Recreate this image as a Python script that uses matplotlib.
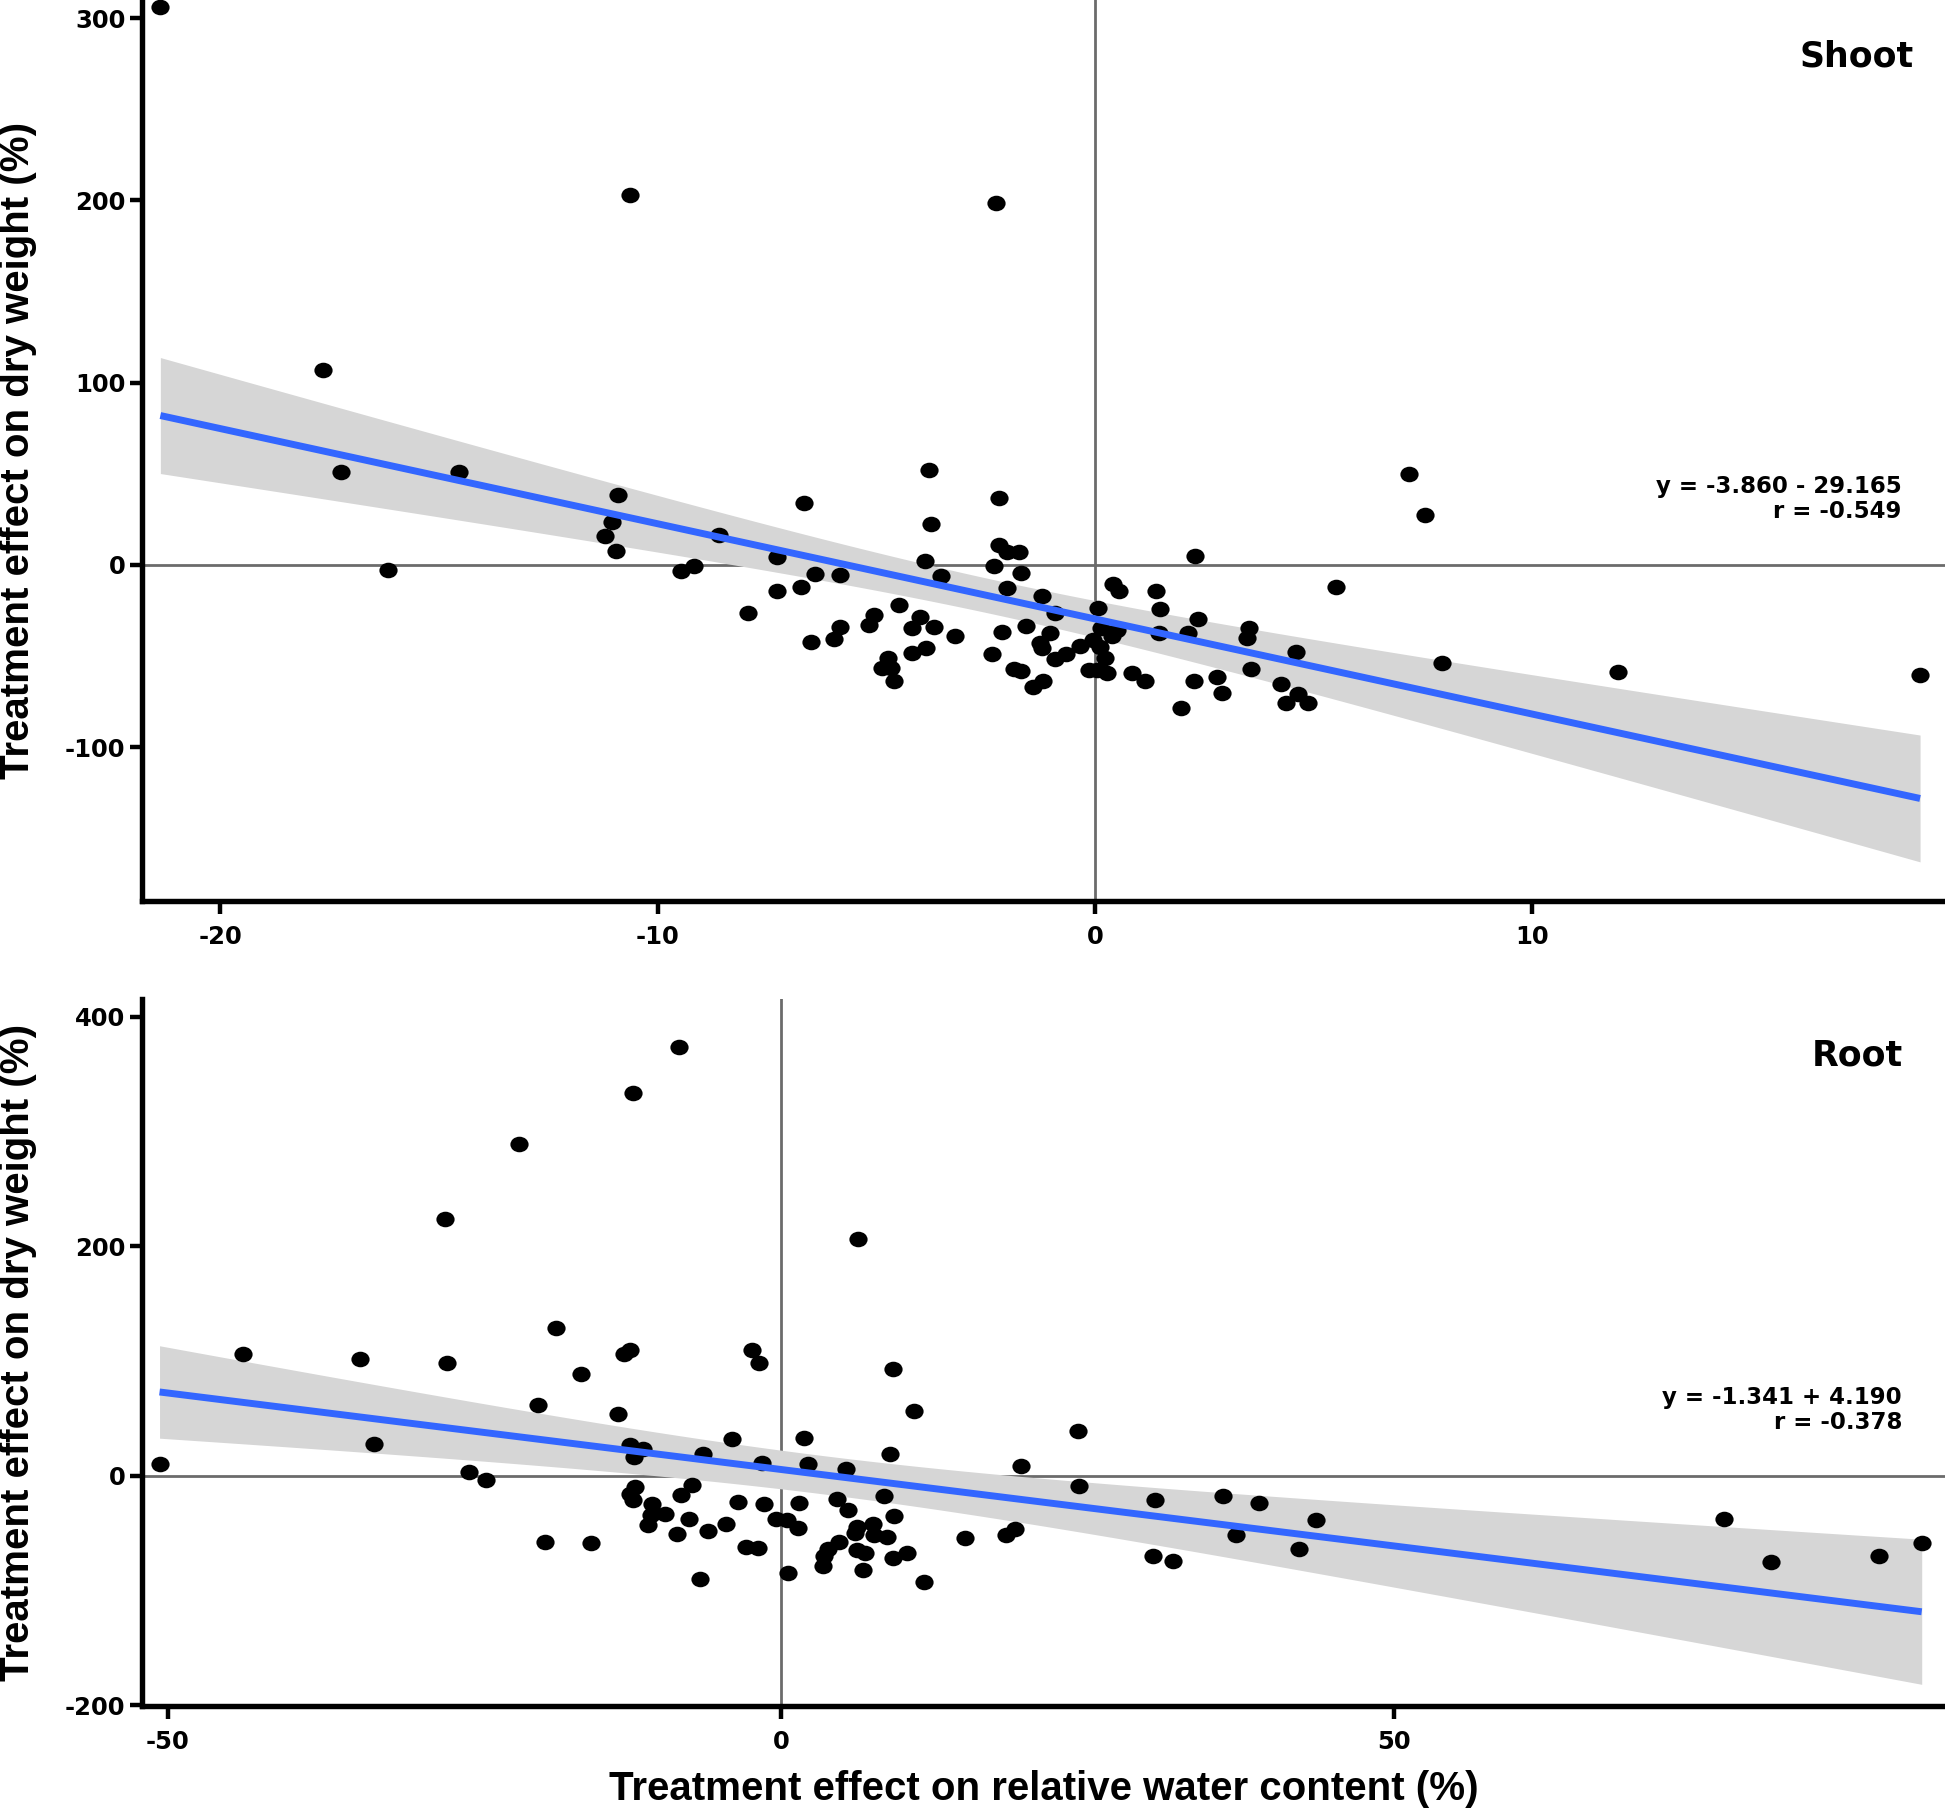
import numpy as np
import matplotlib
matplotlib.use("Agg")
import matplotlib.pyplot as plt
from matplotlib.path import Path

# ---------------- data ----------------
shoot_rwc = [-21.37, -10.62, -17.64, -17.23, -14.55, -16.16, -10.90, -11.05, -11.21, -10.95, -9.47, -9.17,
             -8.59, -7.26, -6.65, -7.94, -7.28, -6.73, -6.40, -5.82, -6.50, -5.96, -5.82, -5.16, -5.05,
             -4.48, -4.73, -4.86, -4.67, -4.60, -4.18, -3.87, -4.19, -3.99, -3.67, -3.20, -3.80, -3.75,
             -3.89, -3.51, -2.26,
             -2.19, -2.19, -2.00, -1.73, -2.30, -1.69, -2.02, -1.20, -0.91, -1.58, -2.13, -1.02, -1.26,
             -1.22, -2.35, -1.85, -1.69, -1.42, -1.18, -0.91, -0.65, -0.34, -0.05, 0.08, 0.15, 0.38, 0.50,
             0.11, 0.23, -0.13, 0.04, 0.27, 0.42, 0.56, 0.84, 1.14, 1.39, 1.49, 1.47, 2.30, 2.35, 2.13,
             2.27, 1.98, 2.79, 2.91, 3.53, 3.48, 3.58, 4.60, 4.25, 4.64, 4.37, 4.88, 5.51,
             7.18, 7.56, 7.93, 11.96, 18.87]
shoot_dw = [306.0, 202.7, 106.8, 50.8, 50.8, -2.6, 38.2, 23.7, 16.0, 7.6, -3.3, -0.7,
            16.5, 4.6, 33.8, -26.5, -14.3, -11.9, -5.1, -5.5, -42.4, -40.4, -33.8, -32.9, -27.4,
            -21.8, -51.2, -56.3, -56.3, -63.5, -48.5, -45.7, -34.7, -28.4, -33.8, -38.8, 52.1, 22.3,
            2.2, -5.8, 198.5,
            36.6, 11.0, 7.0, 7.3, -0.4, -4.6, -12.8, -16.8, -26.1, -33.5, -36.9, -37.5, -43.0,
            -45.7, -49.0, -56.9, -58.1, -66.7, -63.5, -51.7, -49.0, -44.4, -41.1, -23.8, -34.7, -38.8, -35.7,
            -45.2, -51.2, -57.6, -57.6, -59.1, -10.4, -14.1, -59.4, -63.5, -14.3, -24.3, -37.1, 5.1, -29.4, -37.5,
            -63.5, -78.6, -61.6, -70.4, -34.7, -40.2, -57.2, -47.9, -65.4, -70.9, -75.5, -75.5, -11.9,
            50.1, 27.6, -53.8, -58.7, -60.3]

root_rwc = [-50.67, -43.86, -34.32, -33.19, -27.40, -27.22, -25.47, -24.09, -21.39, -19.83, -19.21, -18.37,
            -16.29, -15.53, -13.27, -12.80, -12.28, -12.07, -8.35,
            -2.39, -1.79, -12.32, -11.23, -11.97, -3.97, -6.39, -1.57, -11.91, -12.32, -12.10, -7.23, -8.16,
            -10.55, -9.46, -10.60, -10.87, -7.48, -8.51, -5.98, -4.51, -3.53, -1.39, -0.43, 0.46, -2.88,
            -1.85, -6.61, 0.60,
            9.16, 10.85, 1.88, 8.89, 2.23, 5.28, 24.2, 19.55, 24.28, 1.49, 4.54, 5.49, 8.40, 9.24, 1.41,
            6.17, 7.48, 6.04, 7.61, 8.67, 4.76, 3.81, 3.54, 3.40, 6.17, 6.85, 6.71, 9.16, 10.30, 11.66,
            15.01, 18.35, 19.09, 6.25,
            30.45, 30.29, 31.95, 36.03, 39.01, 37.11, 43.64, 42.25,
            76.9, 80.7, 89.5, 93.0]
root_dw = [10.6, 106.3, 102.1, 27.7, 223.4, 97.8, 3.0, -4.0, 288.7, 61.8, -57.5, 129.1,
           88.4, -58.5, 53.8, 105.9, 109.2, 333.2, 373.4,
           109.4, 97.8, 27.2, 23.7, 16.4, 31.8, 18.7, 11.5, -9.7, -15.5, -21.4, -8.3, -16.4,
           -24.3, -33.0, -34.4, -42.6, -37.3, -50.4, -48.1, -41.7, -22.8, -24.8, -37.3, -38.8, -62.1,
           -62.6, -89.6, -84.7,
           92.8, 56.2, 32.9, 18.5, 9.8, 6.2, 38.8, 8.6, -8.9, -23.7, -20.5, -30.1, -17.6, -35.3, -45.5,
           -44.6, -42.3, -49.5, -51.9, -53.3, -57.7, -63.5, -70.2, -78.6, -64.9, -67.3, -81.7, -71.6, -66.9, -92.5,
           -53.9, -51.3, -46.6, 205.9,
           -20.8, -69.9, -74.5, -17.6, -23.7, -51.9, -38.8, -63.5,
           -37.7, -75.0, -70.3, -58.5]

panel_names = ["Shoot", "Root"]
eq_labels = ["y = -3.860 - 29.165\nr = -0.549", "y = -1.341 + 4.190\nr = -0.378"]
top_xticks = [-20, -10, 0, 10]
top_yticks = [-100, 0, 100, 200, 300]
bot_xticks = [-50, 0, 50]
bot_yticks = [-200, 0, 200, 400]
ylabel_text = "Treatment effect on dry weight (%)"
xlabel_text = "Treatment effect on relative water content (%)"

# ---------------- style ----------------
plt.rcParams['font.family'] = ['DejaVu Sans']
plt.rcParams['font.weight'] = 'bold'
LABEL_FONT = ['Liberation Sans', 'DejaVu Sans']

W, H = 1945, 1812
fig = plt.figure(figsize=(W / 100, H / 100), dpi=100)

# slightly wide elliptical marker (reference is horizontally stretched)
circ = Path.unit_circle()
ell = Path(circ.vertices * np.array([1.17, 1.0]), circ.codes)

T_CRIT = 1.984


def panel(ax, x, y, xlim, ylim, xticks, yticks, name, name_xy, eq, eq_xy):
    x = np.asarray(x, float)
    y = np.asarray(y, float)
    ax.set_xlim(*xlim)
    ax.set_ylim(*ylim)
    ax.axhline(0, color='#6b6b6b', lw=2.0, zorder=1)
    ax.axvline(0, color='#6b6b6b', lw=2.0, zorder=1)

    # linear fit with 95% CI
    n = len(x)
    b, a = np.polyfit(x, y, 1)
    xs = np.linspace(x.min(), x.max(), 200)
    fit = a + b * xs
    resid = y - (a + b * x)
    s = np.sqrt(np.sum(resid ** 2) / (n - 2))
    sxx = np.sum((x - x.mean()) ** 2)
    se = s * np.sqrt(1.0 / n + (xs - x.mean()) ** 2 / sxx)
    ax.fill_between(xs, fit - T_CRIT * se, fit + T_CRIT * se, color='#d6d6d6', lw=0, zorder=2)
    ax.scatter(x, y, s=172, marker=ell, color='black', lw=0, zorder=3)
    ax.plot(xs, fit, color='#3366FF', lw=5, zorder=4, solid_capstyle='butt')

    for sp in ['top', 'right']:
        ax.spines[sp].set_visible(False)
    for sp in ['left', 'bottom']:
        ax.spines[sp].set_linewidth(3.9)
        ax.spines[sp].set_color('black')
    ax.set_xticks(xticks)
    ax.set_yticks(yticks)
    ax.set_xticklabels([str(v) for v in xticks])
    ax.set_yticklabels([str(v) for v in yticks])
    ax.tick_params(axis='both', width=3.2, length=9, labelsize=17.5, color='black')
    ax.tick_params(axis='x', pad=8)
    ax.tick_params(axis='y', pad=3)
    for lab in ax.get_xticklabels() + ax.get_yticklabels():
        lab.set_fontweight('bold')
    ax.text(name_xy[0], name_xy[1], name, ha='right', va='center', fontsize=25, fontweight='bold')
    ax.text(eq_xy[0], eq_xy[1], eq, ha='right', va='center', fontsize=16.5, fontweight='bold',
            linespacing=1.12)
    ax.set_ylabel(ylabel_text, fontsize=29, fontweight='bold', family=LABEL_FONT)
    ax.patch.set_alpha(0)


ax1 = fig.add_axes([142 / W, 1 - 901 / H, (W - 142) / W, 901 / H])
panel(ax1, shoot_rwc, shoot_dw, (-21.79, 19.44), (-184.3, 309.9), top_xticks, top_yticks,
      panel_names[0], (18.73, 278.7), eq_labels[0], (18.45, 36))

ax2 = fig.add_axes([142 / W, 1 - 1706 / H, (W - 142) / W, (1706 - 999) / H])
panel(ax2, root_rwc, root_dw, (-52.1, 94.9), (-200.6, 415.3), bot_xticks, bot_yticks,
      panel_names[1], (91.5, 366.5), eq_labels[1], (91.4, 57.5))
ax2.set_xlabel(xlabel_text, fontsize=29, fontweight='bold', family=LABEL_FONT, labelpad=12)

for ax in (ax1, ax2):
    ax.yaxis.set_label_coords(-0.0585, 0.5)

fig.savefig("out.png", dpi=100)
